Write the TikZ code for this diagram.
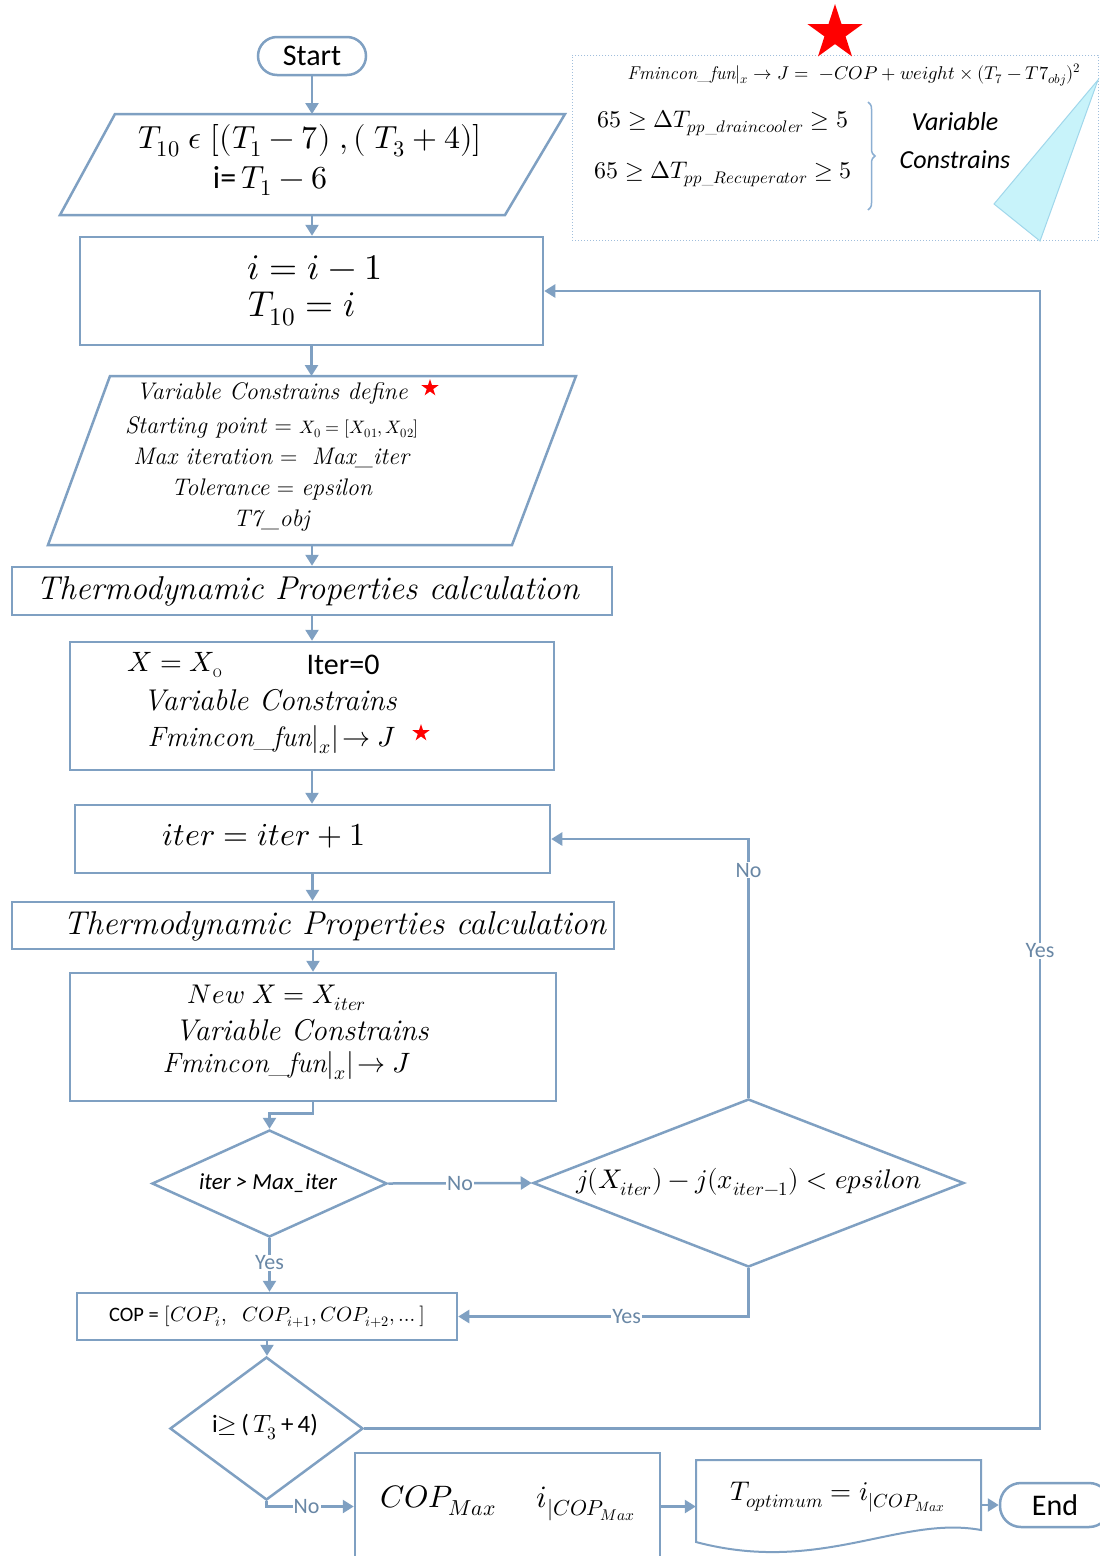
\documentclass[tikz,border=0pt]{standalone}
\usepackage{fontspec}
\usepackage{unicode-math}
\setmathfont{Latin Modern Math}
\newfontfamily\carl{Carlito}
\usetikzlibrary{arrows.meta,shapes.geometric,decorations.pathreplacing}
\definecolor{lc}{RGB}{127,160,194}
\definecolor{labc}{RGB}{105,135,165}
\definecolor{dotc}{RGB}{160,190,220}
\definecolor{bracec}{RGB}{140,175,210}
\definecolor{cyanf}{RGB}{200,243,250}
\definecolor{cyand}{RGB}{160,215,235}
\newcommand{\fsz}[2]{\fontsize{#1}{#2}\selectfont}
\begin{document}
\begin{tikzpicture}[x=1pt,y=-1pt,
  shp/.style={draw=lc,line width=2.5pt,inner sep=0pt},
  lin/.style={draw=lc,line width=2.5pt},
  arr/.style={draw=lc,line width=2.5pt,-{Triangle[length=11pt,width=13pt]}},
  lab/.style={fill=white,text=labc,inner sep=1pt,font=\carl\fsz{22}{26}},
  txt/.style={inner sep=0pt,text=black,align=center},
  redstar/.style={star,star points=5,star point ratio=2.618,fill=red,draw=none,inner sep=0pt}]
\useasboundingbox[fill=white] (0,0) rectangle (1100,1556);

% ---------- top-right note ----------
\node[draw=dotc,dotted,line width=1pt,minimum width=526pt,minimum height=185pt,inner sep=0pt] (cbox) at (835,147.5) {};
\filldraw[fill=cyanf,draw=cyand,line width=1pt] (994,204) -- (1040,241) -- (1098,80) -- (1087,93) -- cycle;
\node[redstar,minimum size=58pt] (bigstar) at (835,33) {};
\node[txt,font=\fsz{18.5}{22}] (fml) at (854,75) {$\mathit{Fmincon\_fun}|_x \rightarrow J =\ -COP + weight \times (T_7 - T7_{obj})^2$};
\node[txt,font=\fsz{24}{28}] (c1) at (723,123) {$65 \geq \Delta T_{pp\_draincooler} \geq 5$};
\node[txt,font=\fsz{24}{28}] (c2) at (723,174) {$65 \geq \Delta T_{pp\_Recuperator} \geq 5$};
\draw[bracec,line width=1.5pt,decorate,decoration={brace,amplitude=7pt}] (868,102) -- (868,210);
\node[txt,font=\carl\itshape\fsz{26}{38}] (vc) at (955,141) {Variable\\Constrains};

% ---------- main flow ----------
\node[shp,rounded corners=19pt,minimum width=108pt,minimum height=38pt] (start) at (312,56) {\carl\fsz{30}{36}Start};

\draw[lin] (115,114) -- (565,114) -- (505,215) -- (60,215) -- cycle;
\coordinate (p1top) at (312,114);
\coordinate (p1bot) at (312,215);
\node[txt,font=\fsz{32}{36}] (p1a) at (310,141) {$T_{10}\;\epsilon\;[(T_1 - 7)\;,(\;T_3 + 4)]$};
\node[txt,font=\fsz{32}{36}] (p1b) at (270,181) {{\carl i=}\,$T_1 - 6$};

\node[shp,minimum width=463pt,minimum height=108pt] (b1) at (311.5,291) {};
\node[txt,font=\fsz{36}{40}] (b1a) at (315,268) {$i = i - 1$};
\node[txt,font=\fsz{36}{40}] (b1b) at (302,309) {$T_{10} = i$};

\draw[lin] (110,376) -- (576,376) -- (512,545) -- (48,545) -- cycle;
\coordinate (p2top) at (312,376);
\coordinate (p2bot) at (312,545);
\node[txt,font=\fsz{24}{28}] (p2a) at (272,393) {\textit{Variable Constrains define}};
\node[txt,font=\fsz{24}{28}] (p2b) at (272,427) {\textit{Starting point} = {\fsz{18}{20}$X_0 = [X_{01}, X_{02}]$}};
\node[txt,font=\fsz{24}{28}] (p2c) at (272,458) {\textit{Max iteration} = \ \textit{Max\_iter}};
\node[txt,font=\fsz{24}{28}] (p2d) at (272,489) {\textit{Tolerance} = \textit{epsilon}};
\node[txt,font=\fsz{24}{28}] (p2e) at (272,521) {\textit{T7\_obj}};
\node[redstar,minimum size=18pt] (s1) at (430,388) {};

\node[shp,minimum width=600pt,minimum height=48pt] (tpc1) at (312,591) {};
\node[txt,font=\fsz{33}{38}] (tpc1t) at (308,591) {\textit{Thermodynamic Properties calculation}};

\node[shp,minimum width=484pt,minimum height=128pt] (b2) at (312,706) {};
\node[txt,font=\fsz{28}{32}] (b2a) at (175,665) {$X = X_{\mathrm{o}}$};
\node[txt,font=\carl\fsz{30}{34}] (b2b) at (343,665) {Iter=0};
\node[txt,font=\fsz{30}{34}] (b2c) at (270,700) {\textit{Variable Constrains}};
\node[txt,font=\fsz{28}{32}] (b2d) at (272,740) {$\mathit{Fmincon\_fun}|_x|\!\rightarrow J$};
\node[redstar,minimum size=18pt] (s2) at (421,733) {};

\node[shp,minimum width=475pt,minimum height=68pt] (b3) at (312.5,839) {};
\node[txt,font=\fsz{32}{36}] (b3t) at (264,836) {$iter = iter + 1$};

\node[shp,minimum width=602pt,minimum height=47pt] (tpc2) at (313,925.5) {};
\node[txt,font=\fsz{33}{38}] (tpc2t) at (335,926) {\textit{Thermodynamic Properties calculation}};

\node[shp,minimum width=486pt,minimum height=128pt] (b4) at (313,1037) {};
\node[txt,font=\fsz{27}{32}] (b4a) at (277,998) {$New\ X = X_{iter}$};
\node[txt,font=\fsz{30}{34}] (b4b) at (302,1030) {\textit{Variable Constrains}};
\node[txt,font=\fsz{28}{32}] (b4c) at (287,1066) {$\mathit{Fmincon\_fun}|_x|\!\rightarrow J$};

\node[shp,diamond,minimum width=235pt,minimum height=107pt] (d1) at (269.5,1183.5) {};
\node[txt,font=\carl\itshape\fsz{23}{26}] (d1t) at (268,1183) {iter > Max\_iter};

\node[shp,diamond,minimum width=431pt,minimum height=168pt] (d2) at (748.5,1183) {};
\node[txt,font=\fsz{27}{32}] (d2t) at (749,1182) {$j(X_{iter}) - j(x_{iter-1}) < epsilon$};

\node[shp,minimum width=380pt,minimum height=47pt] (cop) at (267,1316.5) {};
\node[txt,font=\fsz{20.5}{24}] (copt) at (267,1317) {{\carl COP =} $[COP_i,\ \ COP_{i+1}, COP_{i+2}, \dots\,]$};

\node[shp,diamond,minimum width=193pt,minimum height=143pt] (d3) at (266.5,1428.5) {};
\node[txt,font=\carl\fsz{25}{28}] (d3t) at (265,1427) {i$\geq$\,(\,$T_3$\,+\,4)};

\node[shp,minimum width=305pt,minimum height=107pt] (b5) at (507.5,1506.5) {};
\node[txt,font=\fsz{31}{36}] (b5t) at (508,1503) {$COP_{Max}\quad\ i_{|COP_{Max}}$};

\draw[draw=lc,line width=2pt] (696,1460) -- (981,1460) -- (981,1530) .. controls (900,1515) and (820,1575) .. (696,1542) -- cycle;
\node[inner sep=0pt,minimum width=285pt,minimum height=72pt] (doc) at (838.5,1496) {};
\node[txt,font=\fsz{27}{30}] (doct) at (838,1497) {$T_{optimum} = i_{|COP_{Max}}$};

\node[shp,rounded corners=21pt,minimum width=110pt,minimum height=44pt] (end) at (1055,1505) {\carl\fsz{30}{36}End};

% ---------- connectors ----------
\draw[arr] (start.south) -- (p1top);
\draw[arr] (p1bot) -- (p1bot |- b1.north);
\draw[arr] (b1.south) -- (b1.south |- p2top);
\draw[arr] (p2bot) -- (p2bot |- tpc1.north);
\draw[arr] (tpc1.south) -- (b2.north);
\draw[arr] (b2.south) -- (b2.south |- b3.north);
\draw[arr] (b3.south) -- (b3.south |- tpc2.north);
\draw[arr] (tpc2.south) -- (tpc2.south |- b4.north);
\draw[arr] (b4.south) -- ++(0,11) -| (d1.north);
\draw[arr] (d1.east) -- node[lab]{No} (d2.west);
\draw[arr] (d2.north) |- node[lab,pos=0.44]{No} (b3.east);
\draw[arr] (d1.south) -- node[lab,pos=0.46]{Yes} (d1.south |- cop.north);
\draw[arr] (d2.south) |- node[lab,pos=0.71]{Yes} (cop.east);
\draw[arr] (cop.south) -- (cop.south |- d3.north);
\coordinate (yesc) at (1040,1428.5);
\draw[arr] (d3.east) -- (yesc) |- node[lab,pos=0.21]{Yes} (b1.east);
\draw[arr] (d3.south) |- node[lab,pos=0.73]{No} (b5.west);
\draw[arr] (b5.east) -- (b5.east -| doc.west);
\draw[arr] (doc.east |- end.west) -- (end.west);
\end{tikzpicture}
\end{document}
